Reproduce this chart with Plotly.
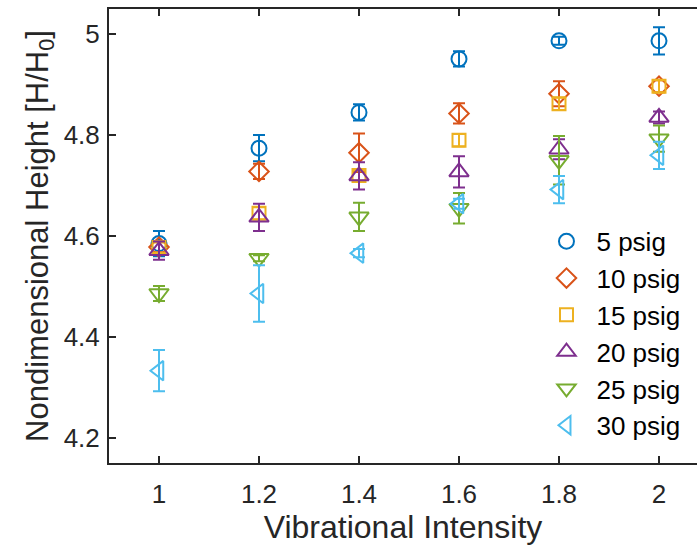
import plotly.graph_objects as go

# Vibrational intensity levels (x) and mean nondimensional heights per pressure
intensity = [1.0, 1.2, 1.4, 1.6, 1.8, 2.0]

h_5 = [4.585, 4.774, 4.845, 4.951, 4.987, 4.987]
e_5 = [0.025, 0.026, 0.016, 0.015, 0.008, 0.027]

h_10 = [4.578, 4.728, 4.765, 4.843, 4.882, 4.897]
e_10 = [0.010, 0.015, 0.038, 0.020, 0.025, 0.012]

h_15 = [4.577, 4.645, 4.720, 4.790, 4.862, 4.897]
e_15 = [0.010, 0.012, 0.010, 0.012, 0.012, 0.012]

h_20 = [4.571, 4.637, 4.719, 4.727, 4.772, 4.835]
e_20 = [0.018, 0.027, 0.027, 0.031, 0.020, 0.012]

h_25 = [4.486, 4.556, 4.638, 4.655, 4.750, 4.793]
e_25 = [0.015, 0.006, 0.028, 0.030, 0.048, 0.026]

h_30 = [4.333, 4.486, 4.566, 4.664, 4.692, 4.760]
e_30 = [0.041, 0.056, 0.008, 0.010, 0.027, 0.027]

labels = ["5 psig", "10 psig", "15 psig", "20 psig", "25 psig", "30 psig"]
heights = [h_5, h_10, h_15, h_20, h_25, h_30]
errors = [e_5, e_10, e_15, e_20, e_25, e_30]
colors = ["#0072BD", "#D95319", "#EDB120", "#7E2F8E", "#77AC30", "#4DBEEE"]
symbols = ["circle-open", "diamond-open", "square-open",
           "triangle-up-open", "triangle-down-open", "triangle-left-open"]
sizes = [15, 15, 13, 17, 17, 17]

ink = "#262626"
font = "Liberation Sans, Arial, sans-serif"

fig = go.Figure()
for lab, h, e, c, s, sz in zip(labels, heights, errors, colors, symbols, sizes):
    fig.add_trace(go.Scatter(
        x=intensity, y=h, name=lab, mode="markers", legendgroup=lab,
        marker=dict(symbol=s, size=sz, color=c, line=dict(color=c, width=2)),
        error_y=dict(type="data", array=e, visible=True, color=c,
                     thickness=2, width=6),
    ))

fig.update_layout(
    width=697, height=548,
    margin=dict(l=109, r=0, t=9, b=85),
    paper_bgcolor="white", plot_bgcolor="white",
    font=dict(family=font, size=26, color=ink),
    showlegend=True,
    legend=dict(x=0.727, y=0.54, xanchor="left", yanchor="top",
                bgcolor="rgba(0,0,0,0)", tracegroupgap=0, itemwidth=50,
                font=dict(size=26, color="black")),
)
fig.update_xaxes(
    range=[0.9, 2.076], tickvals=intensity,
    ticktext=["1", "1.2", "1.4", "1.6", "1.8", "2"],
    ticks="inside", ticklen=7, tickwidth=2, tickcolor=ink,
    showline=True, linecolor=ink, linewidth=2, mirror="ticks",
    showgrid=False, zeroline=False, ticklabelstandoff=7,
    tickfont=dict(size=26),
    title=dict(text="Vibrational Intensity", standoff=4, font=dict(size=32)),
)
fig.update_yaxes(
    range=[4.15, 5.05], tickvals=[4.2, 4.4, 4.6, 4.8, 5.0],
    ticktext=["4.2", "4.4", "4.6", "4.8", "5"],
    ticks="inside", ticklen=7, tickwidth=2, tickcolor=ink,
    showline=True, linecolor=ink, linewidth=2, mirror=False,
    showgrid=False, zeroline=False, ticklabelstandoff=2,
    tickfont=dict(size=26),
    title=dict(text="Nondimensional Height [H/H<sub>0</sub>]", standoff=6,
               font=dict(size=31)),
)

fig.write_html("out.html")
